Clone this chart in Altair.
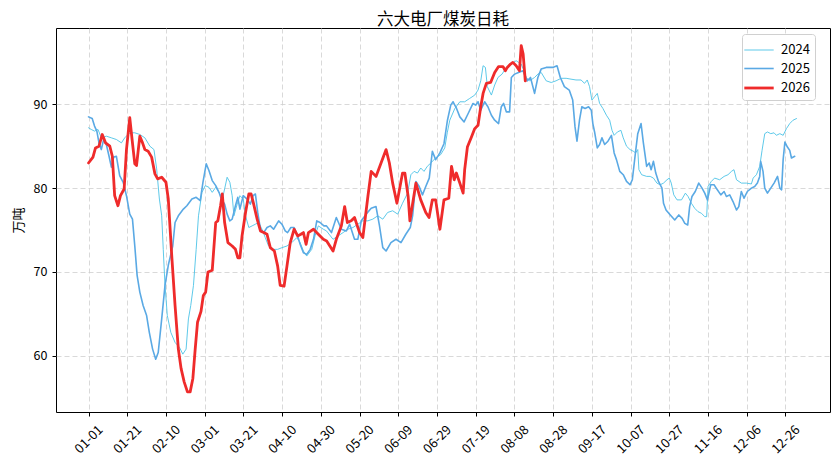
import altair as alt
import pandas as pd

tick_days = [0, 20, 40, 60, 80, 100, 120, 140, 160, 180, 200, 220, 240, 260, 280, 300, 320, 340, 360]
tick_labels = ["01-01", "01-21", "02-10", "03-01", "03-21", "04-10", "04-30", "05-20", "06-09",
               "06-29", "07-19", "08-08", "08-28", "09-17", "10-07", "10-27", "11-16", "12-06", "12-26"]
series_names = ["2024", "2025", "2026"]
series_colors = ["#4cc3e6", "#5aa9e4", "#ef2b2b"]
series_widths = [0.9, 1.6, 2.8]

d2024 = [0, 1.4, 3.1, 4.9, 6.6, 9.2, 11.8, 14.4, 17, 18.7, 21.3, 23.9, 26.5, 29.1, 31.7, 33.8, 35.2, 36.6,
         37.8, 38.6, 39.5, 40.7, 42.5, 44.7, 47, 48.7, 50.4, 51.6, 52.8, 54.2, 55.6, 56.8, 58.6, 60.3,
         62.2, 63.9, 65.7, 67.4, 69.1, 70.3, 71.6, 73, 74.2, 75.1, 76.8, 78.2, 79.9, 81.1, 82.8, 84.5,
         86.2, 87.9, 89.6, 91.3, 93, 95.3, 97.7, 99.9, 102.5, 105, 107.6, 109.3, 111, 112.7, 115.3, 117,
         118.7, 121.3, 122.9, 126.3, 128.9, 131.5, 134, 136.6, 139.1, 141.7, 144.3, 146.8, 149.4, 152,
         154.5, 157.1, 159.7, 162.2, 164.8, 166.5, 168.2, 169.9, 171.6, 173.3, 175, 176.8, 179.3, 181.9,
         184, 185.3, 186.6, 189.2, 191.8, 194.3, 196.9, 199.5, 201.2, 202.6, 203.8, 205, 206, 208.1,
         209.8, 211.5, 213.6, 215.8, 218.4, 220.9, 222.1, 223.5, 224.9, 226.1, 227.8, 230.4, 232.1,
         233.8, 236.4, 239, 241.5, 244.1, 246.7, 249.2, 251.8, 254.4, 256.2, 257.6, 258.8, 260, 261.4,
         262.8, 264, 265.7, 267.5, 269.2, 270.4, 271.5, 273.2, 275, 276.2, 277.9, 279.7, 281.4, 282.6,
         283.7, 284.3, 285.7, 288.3, 290.1, 291.8, 293.6, 295.3, 297, 298.8, 300, 301, 302.3, 304,
         306.3, 308.3, 309.7, 311.4, 313.1, 314.8, 316.6, 318.3, 319.3, 320, 321.7, 323.4, 326, 328.3,
         330.3, 332.1, 333.4, 334.7, 337.2, 339.8, 342.4, 343.3, 345, 346.7, 347.9, 349.3, 350.7, 352.4,
         354.1, 355.3, 357.1, 358.8, 360.5, 362.2, 363.9, 365.7]
v2024 = [87.2, 87.0, 86.8, 87.0, 86.0, 86.2, 86.0, 85.8, 85.4, 86.0, 86.6, 86.6, 86.4, 86.0, 85.0, 84.6, 82.3,
         78.7, 76.7, 72.7, 68.4, 64.8, 62.8, 61.6, 61.0, 60.2, 60.8, 64.4, 66.0, 68.4, 72.7, 76.7, 79.5,
         80.3, 80.1, 79.5, 80.1, 79.5, 78.7, 79.9, 81.3, 80.7, 79.1, 76.7, 78.1, 79.1, 78.7, 76.7, 75.3,
         75.5, 75.7, 75.9, 75.1, 74.1, 73.1, 72.7, 72.7, 72.9, 73.1, 73.5, 74.1, 73.5, 72.5, 71.9, 72.7,
         74.3, 75.5, 75.1, 74.9, 73.9, 74.3, 74.7, 75.1, 75.3, 75.7, 76.1, 76.1, 76.3, 76.7, 76.3, 77.1,
         77.3, 76.9, 78.2, 79.4, 81.6, 82.0, 81.8, 82.4, 82.0, 82.6, 83.0, 83.6, 84.0, 84.8, 86.6, 88.1,
         89.5, 90.3, 90.3, 90.7, 91.1, 91.7, 92.8, 94.6, 94.4, 92.1, 91.1, 92.3, 93.2, 93.6, 94.4, 94.8,
         95.2, 95.0, 94.8, 94.0, 93.2, 92.8, 93.2, 93.6, 93.8, 92.8, 92.6, 92.8, 93.1, 93.1, 93.0, 92.9,
         92.9, 92.5, 92.9, 92.1, 90.5, 90.9, 91.3, 90.1, 89.5, 88.7, 88.1, 86.9, 86.3, 86.7, 86.9, 86.0,
         85.0, 84.6, 84.4, 84.2, 84.6, 82.2, 81.6, 81.4, 81.4, 81.2, 80.6, 80.4, 80.6, 81.0, 81.2, 80.6,
         79.2, 78.6, 78.6, 79.4, 79.0, 78.2, 77.6, 77.2, 77.0, 76.6, 76.6, 80.2, 80.8, 81.2, 81.0, 81.4,
         81.6, 82.0, 82.2, 81.0, 80.6, 80.6, 80.5, 81.2, 81.6, 82.6, 84.5, 86.5, 86.7, 86.5, 86.6, 86.3,
         86.5, 86.3, 87.1, 87.7, 88.1, 88.3]

d2025 = [0, 1.9, 3.1, 4.3, 5.4, 6.6, 7.8, 9.2, 10.6, 11.8, 13, 14.4, 16.1, 17.9, 19.6, 21.3, 22.7, 23.9,
         25.1, 26.5, 28.2, 30, 31.4, 33.1, 34.7, 36, 37.8, 39.5, 41.2, 43.5, 44.7, 46.4, 49, 50.8, 53.4,
         55.6, 57.7, 59.1, 60.8, 62.2, 63.9, 65.7, 67.4, 68.6, 70.3, 71.6, 73, 74.2, 75.9, 77.1, 78.2,
         79.9, 81.9, 83.6, 85, 86.2, 87.4, 88.8, 90.5, 92.2, 93.9, 95.6, 98.2, 99.9, 101.6, 102.8, 104.5,
         106.2, 108, 109.3, 111, 112.7, 114.5, 116.2, 117.9, 119.6, 121.6, 122.9, 125.5, 128, 130.6,
         133.2, 134.9, 137.4, 139.1, 140.9, 143.4, 146, 148.5, 150.3, 152, 153.7, 156.2, 158.8, 161.4,
         163.9, 166.2, 167.4, 169.1, 170.8, 172.5, 174.2, 176, 177.6, 179.3, 181.5, 183.6, 185.4, 187.1,
         188.3, 190.1, 191.8, 194, 196.1, 198.6, 200, 201.2, 202.6, 204.6, 206.3, 208.1, 209.8, 211.8,
         213.2, 214.4, 215.8, 217.5, 218.4, 220.1, 222.1, 224.4, 226.6, 228.3, 230.4, 232.1, 233.8,
         236.4, 239.8, 242, 243.7, 245.8, 248.3, 250.1, 251.3, 252.3, 253.6, 254.8, 256.5, 258.3, 259.7,
         260.5, 261.4, 262.8, 264, 265.2, 266.6, 268.3, 270.1, 271.5, 272.7, 274.4, 276.2, 277.9, 279.7,
         280.9, 282.3, 283.7, 285.4, 286.6, 288.3, 289.6, 290.6, 291.8, 293, 294.4, 296.2, 297, 298.3,
         300.5, 302.8, 304.9, 306.6, 308, 309.5, 310.5, 311.7, 313.4, 315.2, 316.9, 318.3, 319.7, 321.4,
         323.1, 324.8, 326.6, 328.3, 329.5, 331.2, 332.9, 334.7, 335.9, 337.2, 338.6, 340.3, 342.4,
         344.1, 345.5, 346.7, 347.2, 348.4, 349.3, 350.7, 352.4, 354.1, 355.9, 357.1, 358, 358.8, 359.7,
         361, 362.2, 363.1, 364.8]
v2025 = [88.5, 88.3, 87.4, 86.8, 85.4, 84.6, 85.8, 85.2, 83.8, 82.5, 83.7, 83.8, 81.5, 80.7, 79.1, 76.9, 76.3,
         73.1, 69.6, 67.6, 66.0, 64.8, 62.8, 60.8, 59.6, 60.4, 64.4, 68.4, 70.8, 73.1, 75.9, 76.7, 77.5,
         77.9, 78.7, 78.9, 78.5, 80.7, 82.9, 82.1, 80.9, 80.3, 79.5, 78.7, 78.1, 76.9, 76.1, 76.3, 77.9,
         78.9, 77.5, 79.1, 78.7, 78.1, 79.1, 79.3, 77.1, 75.1, 74.7, 75.3, 75.5, 75.1, 76.1, 75.7, 74.9,
         74.7, 75.3, 75.3, 74.3, 73.3, 72.3, 72.1, 72.7, 73.9, 76.1, 75.9, 75.5, 75.5, 74.7, 76.5, 75.1,
         74.9, 75.7, 73.9, 73.9, 76.1, 76.9, 77.6, 77.8, 75.5, 72.9, 72.5, 73.5, 73.9, 73.5, 74.5, 75.3,
         76.7, 80.8, 80.2, 79.2, 80.2, 81.2, 84.4, 83.4, 84.2, 85.3, 88.1, 89.9, 90.3, 89.5, 88.5, 87.9,
         88.9, 90.1, 89.9, 90.3, 89.3, 90.3, 89.7, 88.7, 88.1, 87.7, 89.7, 90.1, 89.1, 89.1, 93.2, 93.6,
         93.8, 94.0, 92.8, 93.2, 91.3, 93.2, 94.2, 94.4, 94.4, 94.6, 93.2, 92.1, 91.7, 90.5, 87.3, 85.6,
         88.1, 89.7, 89.5, 89.7, 89.3, 87.7, 86.7, 84.8, 85.2, 86.0, 85.2, 85.6, 86.3, 84.2, 83.4, 82.0,
         81.6, 80.8, 80.4, 81.0, 83.8, 86.5, 87.7, 85.4, 82.6, 83.0, 82.2, 83.2, 81.8, 80.8, 80.0, 78.2,
         77.4, 76.8, 76.2, 76.8, 76.4, 75.8, 75.6, 77.8, 79.0, 79.6, 80.6, 80.0, 79.4, 78.6, 80.4, 80.4,
         79.8, 79.2, 79.6, 79.0, 79.2, 78.4, 77.4, 77.8, 79.6, 78.8, 79.6, 80.0, 80.2, 80.6, 81.4, 83.2,
         82.0, 80.0, 79.4, 80.0, 80.6, 81.4, 80.0, 79.8, 83.4, 85.5, 84.9, 84.5, 83.6, 83.8]

d2026 = [0, 2.3, 3.6, 5.4, 7.1, 8.8, 11, 12.3, 13.5, 15.2, 16.5, 18.4, 19.6, 21.3, 22.5, 23.9, 24.8, 26.5,
         27.9, 29.1, 30.8, 32.6, 34.3, 35.7, 37.8, 40, 41.2, 43, 44.7, 46.4, 47.8, 49.4, 51.1, 52.5, 53.9,
         55.1, 56.3, 58.1, 59.3, 60.5, 61.7, 63.9, 65.7, 66.8, 68.2, 69.1, 70.3, 72, 74.2, 75.9, 77.1,
         78.2, 79.3, 81.1, 82.8, 84, 85.3, 87.1, 88.8, 90.5, 92.2, 93.9, 96, 97.7, 99, 101, 102.5, 104.2,
         106.2, 108, 109.7, 111, 112.4, 113.6, 116.2, 118.7, 121.3, 123, 126.3, 128, 130.6, 132.3, 133.7,
         135.7, 137.4, 140, 141.7, 144.3, 146, 148.5, 151.1, 153.7, 155.4, 157.1, 159.3, 162.2, 163.4,
         165.1, 166, 169.1, 171.6, 174.2, 175.9, 177.6, 179.3, 181.5, 183.6, 186.1, 187.5, 188.9, 190,
         191.8, 193.5, 194.3, 195.7, 197.8, 199.5, 201.2, 202.6, 203.8, 205.5, 207.7, 209.8, 211.8,
         214.1, 215.3, 216.3, 218, 219.2, 220.9, 222.6, 223.5, 224.5, 225.6]
v2026 = [83.0, 83.7, 84.8, 85.0, 86.4, 85.4, 85.0, 83.8, 79.1, 77.9, 79.1, 79.9, 84.6, 88.4, 85.8, 82.9, 82.7,
         86.2, 85.4, 84.6, 84.4, 83.7, 81.7, 81.1, 81.3, 80.7, 78.7, 71.9, 66.0, 60.8, 58.5, 56.9, 55.7,
         55.7, 57.3, 60.8, 64.0, 65.3, 67.2, 67.6, 70.0, 70.2, 75.9, 76.1, 77.9, 79.3, 75.9, 73.5, 73.1,
         72.7, 71.7, 71.7, 74.3, 77.1, 79.3, 79.3, 78.1, 76.3, 74.9, 74.7, 74.5, 72.9, 72.5, 70.7, 68.4,
         68.3, 70.7, 73.5, 75.1, 74.3, 74.5, 74.7, 73.3, 74.7, 75.1, 74.5, 73.9, 73.7, 72.5, 73.9, 75.5,
         77.8, 75.9, 76.1, 76.5, 74.7, 74.1, 79.0, 82.0, 81.4, 83.0, 84.6, 83.0, 80.6, 78.2, 81.8, 81.8,
         79.0, 76.1, 80.6, 78.6, 77.1, 76.5, 78.6, 78.6, 75.1, 78.6, 78.8, 82.6, 81.0, 81.8, 80.6, 79.4,
         82.2, 84.9, 86.1, 87.1, 87.5, 89.7, 91.3, 92.5, 92.6, 93.8, 94.5, 94.5, 94.0, 94.4, 94.8, 95.0,
         94.6, 94.0, 97.0, 96.0, 92.8]

frames = []
for name, d, v in [("2024", d2024, v2024), ("2025", d2025, v2025), ("2026", d2026, v2026)]:
    frames.append(pd.DataFrame({"day": d, "value": v, "year": name}))
df = pd.concat(frames, ignore_index=True)

label_js = "[" + ",".join("'" + s + "'" for s in tick_labels) + "]"
FONT = "Noto Sans CJK SC"

chart = alt.Chart(df).mark_line(interpolate="linear", strokeJoin="round", strokeCap="round").encode(
    x=alt.X("day:Q",
            scale=alt.Scale(domain=[-16.8, 383], nice=False, zero=False),
            axis=alt.Axis(values=tick_days, labelExpr=label_js + "[round(datum.value/20)]",
                          title=None, labelAngle=315, labelAlign="center", labelBaseline="middle",
                          labelPadding=23, labelFontSize=13)),
    y=alt.Y("value:Q",
            scale=alt.Scale(domain=[53.3, 99.1], nice=False, zero=False),
            axis=alt.Axis(values=[60, 70, 80, 90], title="万吨", titleFontSize=13,
                          titleFontWeight="normal", titlePadding=8, labelPadding=5,
                          labelFontSize=12.5)),
    color=alt.Color("year:N", scale=alt.Scale(domain=series_names, range=series_colors), title=None),
    strokeWidth=alt.StrokeWidth("year:O",
                                scale=alt.Scale(type="ordinal", domain=series_names, range=series_widths),
                                title=None),
    order=alt.Order("day:Q"),
).properties(
    width=774, height=384,
    title=alt.TitleParams("六大电厂煤炭日耗", fontSize=16.5, font=FONT, fontWeight="normal",
                          anchor="middle", offset=0, color="black"),
    autosize=alt.AutoSizeParams(type="none"),
    padding={"left": 48, "top": 20, "right": 1, "bottom": 49},
).configure_view(
    stroke="black", strokeWidth=1
).configure_axis(
    domain=False, tickColor="black", tickSize=4, labelColor="black", labelFont=FONT,
    titleFont=FONT, titleColor="black",
    gridColor="#cfcfcf", gridDash=[5, 3], gridWidth=0.8,
).configure_legend(
    orient="none", legendX=686, legendY=6, fillColor="white", strokeColor="#d0d0d0",
    cornerRadius=3, padding=5, symbolType="M-1.4,0H1.4", symbolSize=441, labelFontSize=13,
    labelFont=FONT, labelColor="black", labelOffset=10, rowPadding=0,
)

chart.save("out.html", embed_options={"renderer": "svg", "actions": False})
